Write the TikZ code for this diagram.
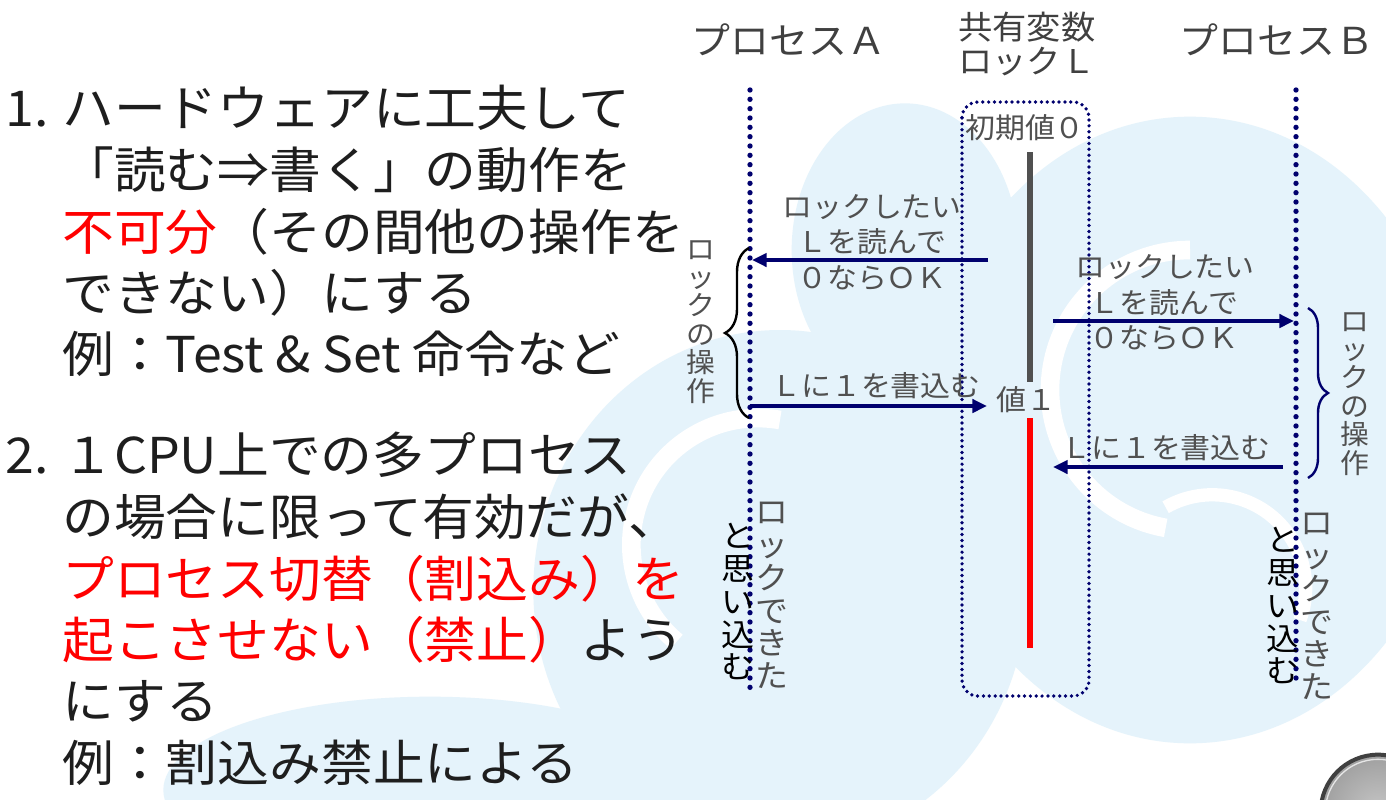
\documentclass[tikz,border=0pt]{standalone}
\usepackage{fontspec}
\setmainfont{Noto Sans CJK JP}[FakeStretch=1.05]
\usetikzlibrary{arrows.meta,decorations.pathreplacing}
\definecolor{navyline}{RGB}{0,0,110}
\definecolor{labelgray}{RGB}{80,80,80}
\definecolor{titlegray}{RGB}{64,64,64}
\definecolor{bodyblack}{RGB}{30,30,30}
\definecolor{paleblue}{RGB}{229,243,251}
\definecolor{barred}{RGB}{255,0,0}
\definecolor{bargray}{RGB}{80,80,80}

\begin{document}
\begin{tikzpicture}[x=0.75pt,y=-0.75pt,
  body/.style={anchor=west,inner sep=0pt,text=bodyblack,text height=0.88em,text depth=0.12em,
    font=\fontsize{37}{42}\selectfont},
  title/.style={inner sep=0pt,text=titlegray,font=\fontsize{27.8}{28}\selectfont},
  lbl/.style={inner sep=0pt,text=labelgray,text height=0.88em,text depth=0.12em,
    font=\fontsize{21.4}{22}\selectfont},
  vlbl/.style={inner sep=0pt,anchor=north,align=center,text=labelgray,font=\fontsize{20.6}{21.3}\selectfont},
  vnote/.style={inner sep=0pt,anchor=north,align=center,font=\fontsize{23.5}{24.6}\selectfont},
  lifeline/.style={navyline,line width=4pt,line cap=round,dash pattern=on 0pt off 7pt},
  boxdots/.style={navyline,line width=2.8pt,line cap=round,dash pattern=on 0pt off 4.4pt,rounded corners=12pt},
  msg/.style={navyline,line width=2.6pt,-{Triangle[length=11pt,width=10pt]}},
  bar/.style={line width=3.9pt},
]
\useasboundingbox (0,0) rectangle (1386,800);
\clip (0,0) rectangle (1386,800);

% pale swirl backdrop
\fill[white] (0,0) rectangle (1386,800);
\fill[paleblue] (1190,430) ellipse [x radius=200pt, y radius=235pt];
\fill[paleblue] (780,590) ellipse [x radius=185pt, y radius=195pt];
\fill[paleblue] (430,790) ellipse [x radius=200pt, y radius=70pt];
\fill[paleblue] (905,250) ellipse [x radius=85pt, y radius=110pt];
\draw[white,line width=14pt] (1190,250) arc[start angle=90,end angle=260,radius=105pt];
\draw[white,line width=14pt] (780,420) arc[start angle=80,end angle=230,radius=95pt];
\draw[white,line width=10pt] (1300,620) arc[start angle=-20,end angle=120,radius=70pt];

% slide navigation button
\shade[inner color=gray!45,outer color=gray!75] (1378,812) circle (43pt);
\draw[black!75,line width=3pt] (1378,812) circle (43pt);
\draw[white!80!gray,line width=1pt] (1378,812) circle (39.5pt);

% explanatory text
\node[body] (n1) at (5,121) {1.};
\node[body] (t1) at (62,121) {ハードウェアに工夫して};
\node[body] (t2) at (62,183) {「読む⇒書く」の動作を};
\node[body] (t3) at (62,245) {\textcolor{barred}{不可分}（その間他の操作を};
\node[body] (t4) at (62,306) {できない）にする};
\node[body] (t5) at (62,367) {例：Test \& Set 命令など};
\node[body] (n2) at (5,468) {2.};
\node[body] (t6) at (62,468) {１CPU上での多プロセス};
\node[body] (t7) at (62,530) {の場合に限って有効だが、};
\node[body,text=barred] (t8) at (62,592) {プロセス切替（割込み）を};
\node[body] (t9) at (62,653) {\textcolor{barred}{起こさせない（禁止）}よう};
\node[body] (t10) at (62,714) {にする};
\node[body] (t11) at (62,776) {例：割込み禁止による};

% column headings
\node[title] (procA) at (789,40) {プロセスＡ};
\node[title] (procB) at (1277,40) {プロセスＢ};
\node[title,anchor=north west,align=left,font=\fontsize{24.5}{25.5}\selectfont] (lockvar) at (958,12) {共有変数\\ロックＬ};

% lifelines
\coordinate (Atop) at (750,90);
\coordinate (Abot) at (750,688);
\coordinate (Btop) at (1296,90);
\coordinate (Bbot) at (1296,682);
\draw[lifeline] (Atop) -- (Abot);
\draw[lifeline] (Btop) -- (Bbot);

% lock variable box and its value bars
\draw[boxdots] (962,102) rectangle (1089,696);
\node[lbl] (init) at (1025,133) {初期値０};
\node[lbl] (val1) at (1026,405) {値１};
\coordinate (g0) at (1030,152);
\coordinate (g1) at (1030,382);
\coordinate (r0) at (1030,418);
\coordinate (r1) at (1030,648);
\draw[bar,bargray] (g0) -- (g1);
\draw[bar,barred] (r0) -- (r1);

% process A messages
\coordinate (LreadA) at (988,260);
\coordinate (AreadA) at (752,260);
\coordinate (AwriteA) at (750,406);
\coordinate (LwriteA) at (987,406);
\draw[msg] (LreadA) -- (AreadA);
\draw[msg] (AwriteA) -- (LwriteA);
\node[lbl] (rA1) at (872,212) {ロックしたい};
\node[lbl] (rA2) at (872,247) {Ｌを読んで};
\node[lbl] (rA3) at (872,283) {０ならＯＫ};
\node[lbl] (wA) at (876,391) {Ｌに１を書込む};

% process B messages
\coordinate (LreadB) at (1053,321);
\coordinate (BreadB) at (1294,321);
\coordinate (BwriteB) at (1283,467);
\coordinate (LwriteB) at (1053,467);
\draw[msg] (LreadB) -- (BreadB);
\draw[msg] (BwriteB) -- (LwriteB);
\node[lbl] (rB1) at (1165,272) {ロックしたい};
\node[lbl] (rB2) at (1164,308) {Ｌを読んで};
\node[lbl] (rB3) at (1164,343) {０ならＯＫ};
\node[lbl] (wB) at (1166,453) {Ｌに１を書込む};

% braces marking the lock operation
\coordinate (braceAlo) at (749,418);
\coordinate (braceAhi) at (749,248);
\coordinate (braceBhi) at (1308,308);
\coordinate (braceBlo) at (1308,478);
\draw[decorate,decoration={brace,amplitude=18pt},line width=1.8pt,black] (braceAlo) -- (braceAhi);
\draw[decorate,decoration={brace,amplitude=15pt},line width=1.8pt,navyline] (braceBhi) -- (braceBlo);
\node[vlbl] (opsA) at (701,240) {ロ\\ッ\\ク\\の\\操\\作};
\node[vlbl] (opsB) at (1355,312) {ロ\\ッ\\ク\\の\\操\\作};

% vertical notes under the lifelines
\node[vnote,text=labelgray] (gotA) at (772,502) {ロ\\ッ\\ク\\で\\き\\た};
\node[vnote,text=black] (thinkA) at (738,523) {と\\思\\い\\込\\む};
\node[vnote,text=labelgray] (gotB) at (1317,513) {ロ\\ッ\\ク\\で\\き\\た};
\node[vnote,text=black] (thinkB) at (1283,527) {と\\思\\い\\込\\む};
\end{tikzpicture}
\end{document}
